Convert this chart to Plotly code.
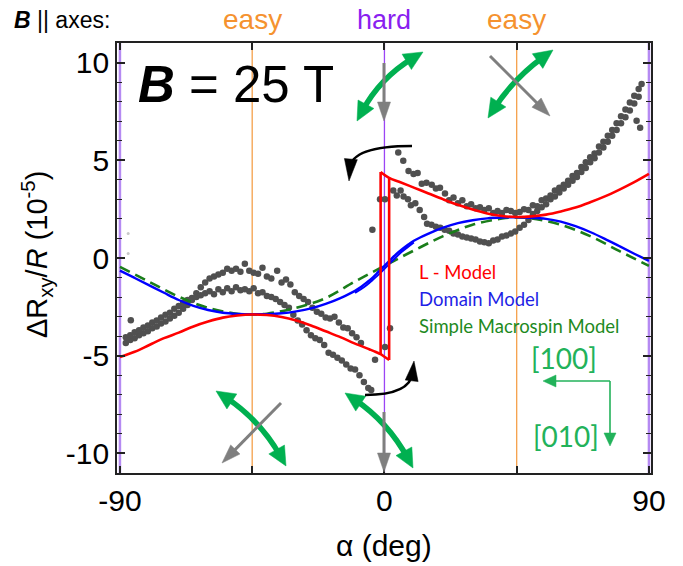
import math
import plotly.graph_objects as go

# ---------------- data ----------------
alpha_sweep_a = [-88.0, -86.5, -85.0, -83.5, -82.0, -80.5, -79.0, -77.5, -76.0, -74.5, -73.0, -71.5, -70.0,
                 -68.5, -67.0, -65.5, -64.0, -62.5, -61.0, -59.5, -58.0, -56.5, -55.0, -53.5, -52.0, -50.5,
                 -49.0, -47.5, -46.0, -44.5, -43.0, -41.5, -40.0, -38.5, -36.5, -35.0, -33.5, -32.0, -30.5,
                 -29.0, -27.5, -26.0, -24.5, -23.0, -21.5, -20.0, -18.5, -17.0, -15.5, -14.0, -12.5, -11.0,
                 -9.5, -8.0, -3.2, 0.2, 1.9,
                 4.7, 6.4, 8.2, 9.9, 11.3, 12.7, 14.3, 16.1, 17.5, 18.9, 20.6, 22.0, 23.5, 25.0, 26.5, 28.0,
                 29.5, 31.0, 32.5, 34.0, 35.5, 37.0, 38.5, 40.0, 41.5, 43.0, 44.5, 46.0, 47.5, 49.0, 50.5,
                 52.0, 53.5, 55.0, 56.5, 58.0, 59.5, 61.0, 62.5, 64.0, 65.5, 67.0, 68.5, 70.0, 71.5, 73.0,
                 74.5, 76.0, 77.5, 79.0, 80.5, 82.0, 83.5, 85.0, 86.5, 87.5]
dR_sweep_a = [-4.35, -4.20, -4.10, -3.95, -3.85, -3.75, -3.60, -3.50, -3.35, -3.25, -3.10, -2.95, -2.80,
              -2.60, -2.40, -2.15, -1.80, -1.50, -1.25, -1.05, -0.95, -0.85, -0.75, -0.55, -0.65, -0.55,
              -0.70, -0.30, -0.65, -0.75, -0.80, -0.50, -0.95, -1.05, -0.65, -1.25, -1.10, -1.35, -1.75,
              -1.95, -2.10, -2.25, -2.55, -2.75, -2.85, -3.05, -3.10, -3.00, -3.30, -3.55, -3.60, -3.85,
              -4.05, -4.35, -5.20, -4.55, -3.60,
              5.40, 4.98, 4.45, 4.30, 4.35, 3.80, 3.85, 3.75, 3.55, 3.60, 3.30, 2.95, 3.10, 2.80, 2.95, 2.65,
              2.75, 2.55, 2.60, 2.45, 2.55, 2.30, 2.40, 2.30, 2.45, 2.40, 2.30, 2.35, 2.50, 2.45, 2.70,
              2.65, 2.95, 3.05, 3.20, 3.45, 3.60, 3.75, 3.95, 4.20, 4.35, 4.65, 4.90, 5.15, 5.35, 5.70,
              5.95, 6.25, 6.55, 6.90, 7.25, 7.60, 7.95, 8.30, 8.65, 8.90]

alpha_sweep_b = [-88.0, -86.5, -85.0, -83.5, -82.0, -80.5, -79.0, -77.5, -76.0, -74.5, -73.0, -71.5, -70.0,
                 -68.5, -67.0, -65.5, -64.0, -62.5, -61.0, -59.5, -58.0, -56.5, -55.0, -53.5, -52.0, -50.5,
                 -49.0, -47.5, -46.0, -44.5, -43.0, -41.5, -40.0, -38.5, -37.0, -35.5, -34.0, -32.5, -31.0,
                 -29.5, -28.0, -26.5, -25.0, -23.5, -22.0, -20.5, -19.0, -17.5, -16.0, -14.5, -13.0, -11.5,
                 -10.0, -8.5, -7.0, -5.5, -4.5,
                 -4.1, -1.5, 0.2, 3.0, 4.2, 5.5, 6.5, 8.0, 9.0, 10.5, 12.0, 13.5, 14.5, 16.0, 17.5, 19.0,
                 20.5, 22.0, 23.5, 25.0, 26.5, 28.0, 29.5, 31.0, 32.5, 34.0, 35.5, 37.0, 38.5, 40.0, 41.5,
                 43.0, 44.5, 46.0, 47.5, 49.0, 50.5, 52.0, 53.5, 55.0, 56.5, 58.0, 59.5, 61.0, 62.5, 64.0,
                 65.5, 67.0, 68.5, 70.0, 71.5, 73.0, 74.5, 76.0, 77.5, 79.0, 80.5, 82.0, 83.5, 85.0, 86.5,
                 85.8, 87.0, -86.3]
dR_sweep_b = [-4.05, -3.95, -3.80, -3.70, -3.55, -3.45, -3.30, -3.20, -3.05, -2.90, -2.80, -2.60, -2.45,
              -2.30, -2.15, -2.05, -2.00, -1.90, -1.80, -1.70, -1.85, -1.60, -1.75, -1.55, -1.70, -1.50,
              -1.65, -1.60, -1.70, -1.55, -1.80, -1.75, -1.95, -2.00, -2.10, -2.25, -2.40, -2.55, -2.90,
              -3.20, -3.40, -3.70, -3.95, -4.10, -4.20, -4.45, -4.85, -4.95, -5.10, -5.25, -5.45, -5.65,
              -5.70, -6.00, -6.35, -6.65, -6.75,
              1.44, 3.00, 3.00, 3.45, 3.20, 3.45, 3.15, 3.00, 2.70, 2.80, 2.45, 2.10, 1.75, 1.70, 1.60, 1.55,
              1.45, 1.40, 1.25, 1.20, 1.10, 1.05, 1.00, 0.95, 0.85, 0.80, 0.75, 0.90, 0.95, 1.10, 1.15,
              1.25, 1.35, 1.55, 1.70, 1.95, 2.25, 2.40, 2.60, 2.75, 3.00, 3.15, 3.35, 3.55, 3.75, 3.95,
              4.15, 4.40, 4.60, 4.90, 5.10, 5.40, 5.65, 5.95, 6.25, 6.55, 6.90, 7.20, 7.55, 7.90, 8.25,
              7.02, 6.66, -3.19]

alpha_faint = [-87.2, -87.2]
dR_faint = [1.25, 0.23]

# L - Model (two branches, hysteresis near 0)
alpha_L_lower = [-90, -85, -80, -75, -70, -65, -60, -55, -50, -45, -40, -35, -30, -25, -20, -15, -10, -5,
                 -2.9, -1.3, 0.0, 1.6]
L_lower = [-5.07, -4.80, -4.45, -4.10, -3.82, -3.50, -3.25, -3.05, -2.94, -2.89, -2.92, -3.02, -3.20,
           -3.45, -3.75, -4.05, -4.38, -4.68, -4.81, -4.92, -5.05, -5.22]
alpha_L_upper = [-1.3, 1.6, 5, 10, 15, 20, 25, 30, 35, 40, 45, 50, 55, 60, 65, 70, 75, 80, 85, 90]
L_upper = [4.40, 4.10, 3.90, 3.60, 3.30, 3.00, 2.72, 2.48, 2.28, 2.15, 2.10, 2.13, 2.22, 2.38, 2.58, 2.85,
           3.15, 3.50, 3.88, 4.30]

# Domain Model (two nearly coincident branches around 0)
alpha_domain = [-90, -85, -80, -75, -70, -65, -60, -55, -50, -45, -40, -35, -30, -25, -20, -15, -10, -8,
                -6, -4, -2, 0, 2, 4, 6, 8, 10, 15, 20, 25, 30, 35, 40, 45, 50, 55, 60, 65, 70, 75, 80,
                85, 90]
domain_a = [-0.65, -1.02, -1.40, -1.78, -2.15, -2.45, -2.66, -2.80, -2.86, -2.88, -2.87, -2.83, -2.73,
            -2.58, -2.35, -2.05, -1.68, -1.48, -1.25, -1.00, -0.70, -0.40, -0.10, 0.20, 0.45, 0.68, 0.88,
            1.25, 1.55, 1.78, 1.93, 2.03, 2.07, 2.08, 2.06, 2.00, 1.86, 1.63, 1.33, 0.98, 0.60, 0.22, -0.15]
alpha_domain_b = [-10, -8, -6, -4, -2, 0, 2, 4, 6, 8, 10]
domain_b = [-1.78, -1.60, -1.38, -1.12, -0.85, -0.55, -0.25, 0.05, 0.33, 0.57, 0.80]

# Simple Macrospin Model
alpha_macro = [-90, -80, -70, -60, -50, -45, -40, -30, -20, -10, 0, 10, 20, 30, 40, 45, 50, 60, 70, 80, 90]
macro = [-0.45, -1.22, -1.98, -2.55, -2.85, -2.89, -2.85, -2.55, -2.05, -1.20, -0.40, 0.38, 1.12, 1.70,
         2.02, 2.08, 2.03, 1.70, 1.12, 0.35, -0.40]

x_tickvals = [-90, 0, 90]
x_ticktext = ["-90", "0", "90"]
x_minor_dtick = 45
y_tickvals = [-10, -5, 0, 5, 10]
y_ticktext = ["-10", "-5", "0", "5", "10"]
easy_axes = [-45, 45]
hard_axes = [-90, 0, 90]

# ---------------- layout geometry ----------------
W, H = 683, 566
ML, MR, MT, MB = 117, 32, 43, 93
PW, PH = W - ML - MR, H - MT - MB
X0, X1 = -91.0, 90.7
Y0, Y1 = -11.0, 11.0

FONT = "Liberation Sans, Arial, sans-serif"
CAL = "Lato, Carlito, Calibri, sans-serif"

def px2d(px, py):
    return (X0 + (px - ML) / PW * (X1 - X0), Y1 - (py - MT) / PH * (Y1 - Y0))

shapes = []

def _pt(p):
    d = px2d(*p)
    return "{:.4f},{:.4f}".format(d[0], d[1])

def _head(tip, frm, color, hl, hw):
    dx, dy = tip[0] - frm[0], tip[1] - frm[1]
    n = math.hypot(dx, dy)
    ux, uy = dx / n, dy / n
    bx, by = tip[0] - ux * hl, tip[1] - uy * hl
    left = (bx - uy * hw / 2, by + ux * hw / 2)
    right = (bx + uy * hw / 2, by - ux * hw / 2)
    shapes.append(dict(type="path", xref="x", yref="y", layer="above",
                       path="M {} L {} L {} Z".format(_pt(tip), _pt(left), _pt(right)),
                       fillcolor=color, line=dict(color=color, width=0.5)))
    return (tip[0] - ux * hl * 0.6, tip[1] - uy * hl * 0.6)

def arrow(p0, p1, color, width, hl, hw, ctrl=None, double=False):
    c = ctrl if ctrl is not None else ((p0[0] + p1[0]) / 2, (p0[1] + p1[1]) / 2)
    e = _head(p1, c, color, hl, hw)
    s = _head(p0, c, color, hl, hw) if double else p0
    shapes.append(dict(type="path", xref="x", yref="y", layer="above",
                       path="M {} Q {} {}".format(_pt(s), _pt(c), _pt(e)),
                       line=dict(color=color, width=width)))

# ---------------- figure ----------------
fig = go.Figure()

# reference axis lines
for a in hard_axes:
    edge = abs(a) == 90
    shapes.append(dict(type="line", xref="x", yref="paper", x0=a, x1=a, y0=0, y1=1, layer="below",
                       line=dict(color="#b58af2" if edge else "#9b45f5", width=2.5 if edge else 1.3)))
for a in easy_axes:
    shapes.append(dict(type="line", xref="x", yref="paper", x0=a, x1=a, y0=0, y1=1, layer="below",
                       line=dict(color="#f5a04a", width=1.3)))

marker = dict(color="#505050", size=6.5)
fig.add_trace(go.Scatter(x=alpha_sweep_a, y=dR_sweep_a, mode="markers", marker=marker, showlegend=False))
fig.add_trace(go.Scatter(x=alpha_sweep_b, y=dR_sweep_b, mode="markers", marker=marker, showlegend=False))
fig.add_trace(go.Scatter(x=alpha_faint, y=dR_faint, mode="markers",
                         marker=dict(color="#c8c8c8", size=3), showlegend=False))

fig.add_trace(go.Scatter(x=alpha_macro, y=macro, mode="lines",
                         line=dict(color="#1a7d1a", width=2.6, dash="11px,6px", shape="spline"),
                         showlegend=False))
fig.add_trace(go.Scatter(x=alpha_domain, y=domain_a, mode="lines",
                         line=dict(color="#0000ff", width=2.4, shape="spline"), showlegend=False))
fig.add_trace(go.Scatter(x=alpha_domain_b, y=domain_b, mode="lines",
                         line=dict(color="#0000ff", width=2.0, shape="spline"), showlegend=False))

red = dict(color="#ff0000", width=2.6)
fig.add_trace(go.Scatter(x=alpha_L_lower, y=L_lower, mode="lines",
                         line=dict(red, shape="spline"), showlegend=False))
fig.add_trace(go.Scatter(x=alpha_L_upper, y=L_upper, mode="lines",
                         line=dict(red, shape="spline"), showlegend=False))
# hysteresis jumps of the L-model (vertical edges joining the two branches)
fig.add_trace(go.Scatter(x=[alpha_L_upper[0], alpha_L_upper[0]],
                         y=[L_upper[0], L_lower[alpha_L_lower.index(alpha_L_upper[0])]],
                         mode="lines", line=red, showlegend=False))
fig.add_trace(go.Scatter(x=[alpha_L_lower[-1], alpha_L_lower[-1]],
                         y=[L_lower[-1], L_upper[alpha_L_upper.index(alpha_L_lower[-1])]],
                         mode="lines", line=red, showlegend=False))

# decorative arrows (pixel positions of the drawing)
G = "#00b050"
arrow((357, 121), (423, 52), G, 5.5, 19, 18, ctrl=(380, 78), double=True)
arrow((488, 118), (553, 50), G, 5.5, 19, 18, ctrl=(514, 78), double=True)
arrow((216, 391), (286, 466), G, 5.5, 19, 18, ctrl=(260, 420), double=True)
arrow((345, 393), (413, 468), G, 5.5, 19, 18, ctrl=(388, 422), double=True)
GR = "#7f7f7f"
arrow((384, 63), (384, 121), GR, 3, 19, 13)
arrow((490, 56), (550, 116), GR, 3, 19, 13)
arrow((281, 403), (222, 463), GR, 3, 19, 13)
arrow((384, 412), (384, 472), GR, 3, 19, 13)
K = "#000000"
arrow((412, 146), (349, 181), K, 2.6, 22, 13, ctrl=(352, 146))
arrow((365, 395), (414, 361), K, 2.6, 20, 13, ctrl=(410, 395))
GL = "#22b25a"
arrow((610, 381), (543, 381), GL, 1.6, 13, 12)
arrow((610, 381), (610, 446), GL, 1.6, 13, 12)

annotations = []
def text(x, y, s, size, color="black", font=FONT, xanchor="center", xref="x", yref="y", **kw):
    annotations.append(dict(x=x, y=y, xref=xref, yref=yref, text=s, showarrow=False,
                            xanchor=xanchor, yanchor="middle",
                            font=dict(family=font, size=size, color=color), **kw))

ytop = (MT + PH - 20) / PH
text((12 - ML) / PW, ytop, "<b><i>B</i></b> || axes:", 23, xanchor="left", xref="paper", yref="paper")
text(-45, ytop, "easy", 28, "#f5922f", yref="paper")
text(0, ytop, "hard", 27, "#8a1ff0", yref="paper")
text(45, ytop, "easy", 28, "#f5922f", yref="paper")
text(px2d(136, 0)[0], px2d(0, 84)[1], "<b><i>B</i></b> = 25 T", 51, xanchor="left")
text(px2d(417, 0)[0], px2d(0, 272)[1], "L - Model", 18.5, "#ff0000", font=CAL, xanchor="left")
text(px2d(417, 0)[0], px2d(0, 299)[1], "Domain Model", 18.5, "#1f1fe6", font=CAL, xanchor="left")
text(px2d(417, 0)[0], px2d(0, 326)[1], "Simple Macrospin Model", 18.5, "#1e8a1e", font=CAL, xanchor="left")
text(px2d(564, 0)[0], px2d(0, 358)[1], "[100]", 28, GL, font=CAL)
text(px2d(566, 0)[0], px2d(0, 436)[1], "[010]", 28, GL, font=CAL)
# axis titles
text(0, (MT + PH - 545) / PH, "α (deg)", 30, yref="paper")
text((37 - ML) / PW, (MT + PH - 255) / PH, "ΔR<sub>xy</sub>/<i>R</i> (10<sup>-5</sup>)", 29,
     xref="paper", yref="paper", textangle=-90)

fig.update_layout(
    width=W, height=H, margin=dict(l=ML, r=MR, t=MT, b=MB, pad=0),
    paper_bgcolor="white", plot_bgcolor="white",
    shapes=shapes, annotations=annotations, showlegend=False,
    font=dict(family=FONT, size=30, color="black"),
    xaxis=dict(range=[X0, X1], tickvals=x_tickvals, ticktext=x_ticktext, ticks="inside", ticklen=7,
               tickwidth=1.5, tickcolor="#222", showline=True, linecolor="#222", linewidth=1.8,
               mirror="ticks", showgrid=False, zeroline=False,
               minor=dict(dtick=x_minor_dtick, tick0=0, ticks="inside", ticklen=7, tickwidth=1.5,
                          tickcolor="#222"),
               tickfont=dict(family=FONT, size=30, color="black")),
    yaxis=dict(range=[Y0, Y1], tickvals=y_tickvals, ticktext=y_ticktext, ticks="inside", ticklen=8,
               tickwidth=1.5, tickcolor="#222", showline=True, linecolor="#222", linewidth=1.8,
               mirror="ticks", showgrid=False, zeroline=False, ticklabelstandoff=0,
               minor=dict(dtick=1, ticks="inside", ticklen=5, tickwidth=1.2, tickcolor="#222"),
               tickfont=dict(family=FONT, size=30, color="black")),
)

fig.write_html("out.html")
